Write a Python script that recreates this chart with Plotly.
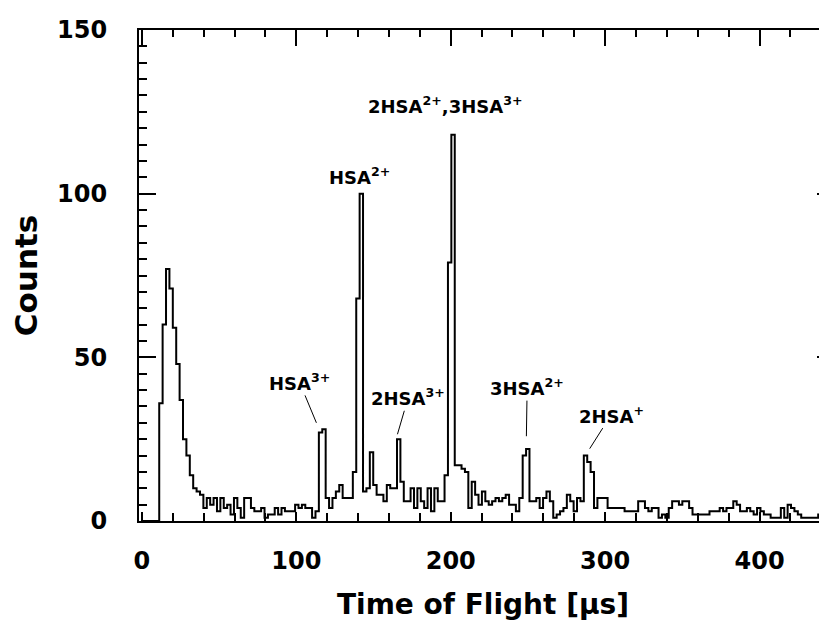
import plotly.graph_objects as go

# ---------------- data ----------------
BIN_START = 0.2      # µs, left edge of first channel
BIN_WIDTH = 2.2      # µs per channel

counts = [
    0, 0, 0, 0, 0,
    36, 60, 77, 71, 59, 48, 37, 25, 20, 14, 10, 9, 8,
    4, 7, 5, 7, 3, 7, 4, 5, 2, 7, 4, 1, 7, 7, 4, 3, 3, 4, 1, 2, 2, 4, 2, 4, 3, 3, 3, 5, 4, 5, 4, 4, 1, 3,
    27, 28,
    7, 4, 7, 9, 11, 7, 7, 7, 15,
    68, 100, 9, 10, 21, 11, 8, 8,
    6, 11, 10, 10,
    25, 12, 6, 6, 10, 4, 10, 6, 4, 10, 3, 10, 6, 6, 14,
    79, 118, 17, 17, 16, 15,
    4, 12, 8, 5, 9, 6, 5, 6, 7, 6, 7, 8, 5, 5, 3, 7,
    20, 22,
    6, 6, 7, 4, 7, 9, 6, 1, 2, 3, 4, 8, 6, 3, 7, 6,
    20, 18, 15,
    4, 7, 7, 7, 4, 4, 4, 4, 4, 3, 3, 3, 3, 6, 6, 4, 3, 4, 4, 1, 2, 1, 4, 6, 6, 5, 6, 6, 4,
    2, 2, 2, 2, 2, 3, 3, 3, 4, 3, 4, 4, 6, 5, 3, 3, 4, 3, 2, 4, 3, 2, 2, 1, 1, 1, 4, 1, 5,
    4, 3, 2, 1, 1, 1, 1, 1, 2, 1, 1,
]

x_tick_vals = [0, 100, 200, 300, 400]
y_tick_vals = [0, 50, 100, 150]

x_title = "Time of Flight [μs]"
y_title = "Counts"

ann_text = ["HSA<sup>3+</sup>", "HSA<sup>2+</sup>", "2HSA<sup>2+</sup>,3HSA<sup>3+</sup>",
            "2HSA<sup>3+</sup>", "3HSA<sup>2+</sup>", "2HSA<sup>+</sup>"]
ann_text_x = [102.0, 141.0, 196.0, 172.5, 249.5, 304.0]
ann_text_y = [42.5, 105.5, 127.0, 37.8, 40.9, 32.5]
ann_tip_x = [113.0, None, None, 165.5, 249.0, 290.0]
ann_tip_y = [30.0, None, None, 26.5, 25.9, 22.1]

X_RANGE = [-1.9, 443.7]
Y_RANGE = [0, 150]

# ---------------- figure ----------------
edges = [BIN_START + BIN_WIDTH * i for i in range(len(counts) + 1)]
step_y = counts + [counts[-1]]

FONT = "DejaVu Sans"

fig = go.Figure()
fig.add_trace(go.Scatter(
    x=edges, y=step_y, mode="lines",
    line=dict(shape="hv", color="black", width=2),
    hoverinfo="skip", showlegend=False,
))
# invisible twin so the top/right axes get drawn
fig.add_trace(go.Scatter(
    x=edges, y=step_y, mode="lines", xaxis="x2", yaxis="y2",
    line=dict(shape="hv", color="rgba(0,0,0,0)", width=1),
    hoverinfo="skip", showlegend=False,
))

tick_font = dict(family=FONT, size=24, color="black", weight="bold")
title_font = dict(family=FONT, size=28, color="black", weight="bold")
ytitle_font = dict(family=FONT, size=31, color="black", weight="bold")

# the page places the figure 8 px in from the top-left corner
fig.update_layout(
    width=827, height=628,
    margin=dict(l=131, r=8, t=22, b=115, autoexpand=False),
    paper_bgcolor="white", plot_bgcolor="white",
    xaxis=dict(
        range=X_RANGE, tickmode="array", tickvals=x_tick_vals,
        ticks="inside", ticklen=9, tickwidth=1.5, tickcolor="black",
        minor=dict(ticks="inside", dtick=20, tick0=0, ticklen=8, tickwidth=1.5,
                   tickcolor="black", showgrid=False),
        showline=True, linewidth=2, linecolor="black",
        showgrid=False, zeroline=False, automargin=False,
        tickfont=tick_font, ticklabelstandoff=17,
        title=dict(text=x_title, font=title_font, standoff=21),
    ),
    xaxis2=dict(
        range=X_RANGE, overlaying="x", side="top", anchor="y",
        tickmode="array", tickvals=x_tick_vals,
        ticks="inside", ticklen=16, tickwidth=1.5, tickcolor="black",
        minor=dict(ticks="inside", dtick=20, tick0=0, ticklen=7, tickwidth=1.5,
                   tickcolor="black", showgrid=False),
        showline=True, linewidth=2, linecolor="black", automargin=False,
        showgrid=False, zeroline=False, showticklabels=False,
    ),
    yaxis=dict(
        range=Y_RANGE, tickmode="array", tickvals=y_tick_vals,
        ticks="inside", ticklen=17, tickwidth=1.5, tickcolor="black",
        minor=dict(ticks="inside", dtick=5, tick0=0, ticklen=8, tickwidth=1.5,
                   tickcolor="black", showgrid=False),
        showline=True, linewidth=2, linecolor="black",
        showgrid=False, zeroline=False, automargin=False,
        tickfont=tick_font, ticklabelstandoff=25,
        title=dict(text=y_title, font=ytitle_font, standoff=24),
    ),
    yaxis2=dict(
        range=Y_RANGE, overlaying="y", side="right", anchor="x",
        tickmode="array", tickvals=y_tick_vals,
        ticks="inside", ticklen=10, tickwidth=1.5, tickcolor="black",
        minor=dict(ticks="inside", dtick=5, tick0=0, ticklen=4, tickwidth=1.5,
                   tickcolor="black", showgrid=False),
        showline=False, showgrid=False, zeroline=False, showticklabels=False,
        automargin=False,
    ),
)

ann_font = dict(family=FONT, size=18, color="black", weight="bold")
for txt, tx, ty, px, py in zip(ann_text, ann_text_x, ann_text_y, ann_tip_x, ann_tip_y):
    if px is None:
        fig.add_annotation(x=tx, y=ty, xref="x", yref="y", text=txt,
                           showarrow=False, font=ann_font)
    else:
        fig.add_annotation(x=px, y=py, xref="x", yref="y",
                           ax=tx, ay=ty, axref="x", ayref="y",
                           text=txt, showarrow=True, arrowhead=0,
                           arrowwidth=1, arrowcolor="black", standoff=0,
                           font=ann_font)

fig.write_html("out.html")
